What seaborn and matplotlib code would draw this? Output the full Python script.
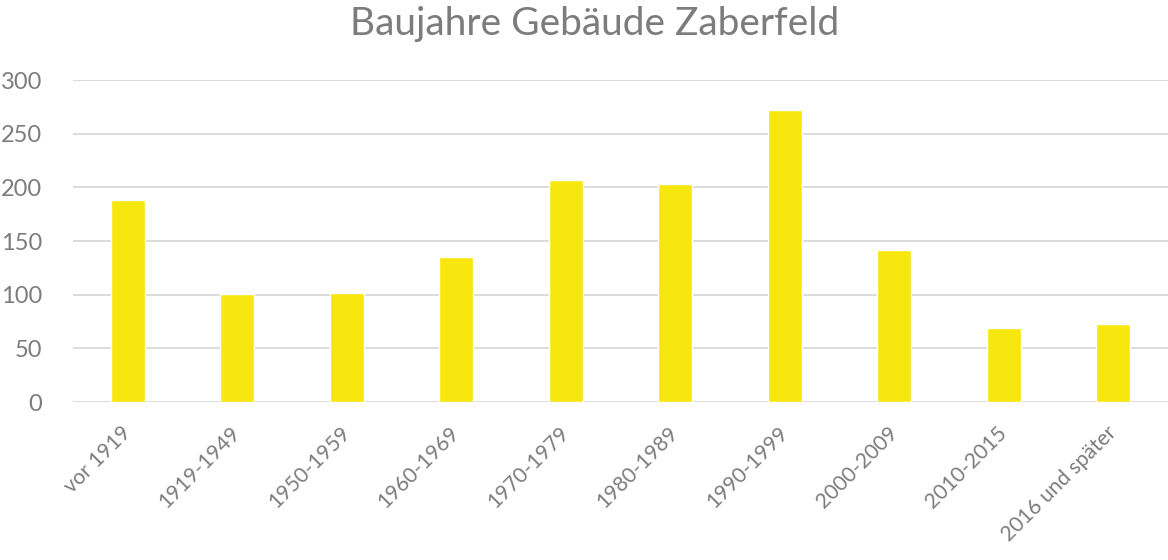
import matplotlib
matplotlib.use('Agg')
import matplotlib.pyplot as plt
import seaborn as sns
import pandas as pd

categories = ['vor 1919', '1919-1949', '1950-1959', '1960-1969', '1970-1979',
              '1980-1989', '1990-1999', '2000-2009', '2010-2015', '2016 und später']
values = [188, 101, 102, 135, 207, 203, 272, 142, 69, 73]
y_ticks = [0, 50, 100, 150, 200, 250, 300]

df = pd.DataFrame({'kategorie': categories, 'anzahl': values})

sns.set_style("white")
plt.rcParams['font.family'] = ['Lato', 'DejaVu Sans']
text_grey = '#7c7c7c'

fig = plt.figure(figsize=(11.68, 5.6), dpi=100)
ax = fig.add_axes([0.0625, 0.282, 0.9375, 0.575])

sns.barplot(data=df, x='kategorie', y='anzahl', color='#F8E60F',
            saturation=1, width=0.31, ax=ax, zorder=3)

ax.set_ylim(0, 300)
ax.set_yticks(y_ticks)
ax.set_xlim(-0.5, len(categories) - 0.5)
ax.yaxis.grid(True, color='#d9d9d9', linewidth=1.3, zorder=0)
ax.set_axisbelow(True)
for s in ax.spines.values():
    s.set_visible(False)

ax.set_xlabel('')
ax.set_ylabel('')
ax.tick_params(axis='y', length=0, labelsize=17, labelcolor=text_grey, pad=22)
ax.tick_params(axis='x', length=0, labelsize=15.2, labelcolor=text_grey, pad=20)
plt.setp(ax.get_xticklabels(), rotation=45, ha='right', va='center',
         rotation_mode='anchor')

fig.text(0.509, 0.99, 'Baujahre Gebäude Zaberfeld', fontsize=28, color=text_grey,
         ha='center', va='top')

plt.savefig('out.png', dpi=100)
